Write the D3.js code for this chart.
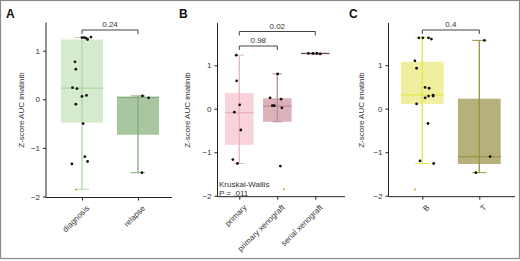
<!DOCTYPE html>
<html>
<head>
<meta charset="utf-8">
<script src="https://cdn.jsdelivr.net/npm/d3@7"></script>
<style>
  body { margin: 0; background: #fff; }
  text { font-family: "Liberation Sans", Arial, sans-serif; }
</style>
</head>
<body>
<script>
const WIDTH = 520;
const HEIGHT = 261;

// ---- datos ----
const catsA = ["diagnosis", "relapse"];
const catsB = ["primary", "primary xenograft", "serial xenograft"];
const catsC = ["B", "T"];

// [bigote inf, q1, mediana, q3, bigote sup]
const cajasA = [[-1.85, -0.48, 0.23, 1.23, 1.27], [-1.51, -0.73, 0.04, 0.05, 0.07]];
const cajasB = [[-1.26, -0.83, -0.09, 0.36, 1.23], [-0.3, -0.3, 0.06, 0.24, 0.8], [1.26, 1.27, 1.27, 1.27, 1.27]];
const cajasC = [[-1.26, 0.11, 0.32, 1.08, 1.63], [-1.47, -1.27, -1.1, 0.23, 1.57]];

// puntos: valores y jitter (fraccion del paso) por categoria
const puntosA = [
  [1.27, 1.27, 1.26, 1.23, 1.28, 0.77, 0.62, 0.24, 0.22, 0.06, 0.08, -0.1, -0.5, -1.18, -1.28, -1.33],
  [0.07, 0.03, -1.51]
];
const jitterA = [
  [0.0, 0.04, 0.07, 0.1, 0.16, -0.125, -0.11, -0.17, -0.09, 0, 0.08, -0.11, 0.02, 0.05, 0.1, -0.18],
  [0.08, 0.19, 0.07]
];
const puntosB = [
  [1.23, 0.64, 0.09, -0.08, -0.49, -1.17, -1.26],
  [0.25, 0.07, 0.07, 0.8, 0.22, 0.02, -1.32],
  [1.27, 1.27, 1.27, 1.26]
];
const jitterB = [
  [-0.08, -0.07, 0.01, -0.13, 0.04, -0.17, -0.05],
  [-0.19, -0.13, -0.08, 0.01, 0.1, 0.12, 0.08],
  [-0.18, -0.06, 0.04, 0.13]
];
const puntosC = [
  [1.63, 1.63, 1.63, 1.6, 1.1, 0.93, 0.49, 0.47, 0.25, 0.29, 0.29, 0.31, 0.11, -0.34, -1.2, -1.26],
  [1.57, -1.1, -1.47]
];
const jitterC = [
  [-0.06, 0.01, 0.11, 0.16, -0.13, -0.1, 0.05, 0.12, 0.05, 0.11, 0.19, 0.19, -0.1, 0.1, -0.04, 0.2],
  [0.09, 0.19, -0.06]
];
// outlier naranja [categoria, valor, jitter]
const atipicoA = [0, -1.86, -0.11];
const atipicoB = [1, -1.85, 0.17];
const atipicoC = [0, -1.86, -0.13];

const comparacionesA = [[0, 1, "0.24"]];
const comparacionesB = [[0, 1, "0.98"], [0, 2, "0.02"]];
const comparacionesC = [[0, 1, "0.4"]];

const ticksY = [-2, -1, 0, 1];

const SVG = d3.select("body").append("svg")
  .attr("width", WIDTH)
  .attr("height", HEIGHT);

SVG.append("rect")
  .attr("x", 0.5).attr("y", 0.5)
  .attr("width", WIDTH - 1).attr("height", 258)
  .attr("fill", "none")
  .attr("stroke", "#8a8a8a")
  .attr("stroke-width", 1.2);

const dibujarPanel = (cfg) => {
  const g = SVG.append("g");
  const x = d3.scalePoint().domain(cfg.cats).range(cfg.xCats);
  const paso = x.step();
  const y = d3.scaleLinear().domain(cfg.yDom).range([cfg.yBottom, cfg.yTop]);
  const anchoCaja = paso * 0.75;
  const anchoTope = paso * 0.25;

  // cajas
  cfg.cats.forEach((c, i) => {
    const [lo, q1, med, q3, hi] = cfg.cajas[i];
    const cx = x(c);
    g.append("rect")
      .attr("x", cx - anchoCaja / 2)
      .attr("y", y(q3))
      .attr("width", anchoCaja)
      .attr("height", Math.max(0, y(q1) - y(q3)))
      .attr("fill", cfg.relleno[i]);
    g.append("line")
      .attr("x1", cx).attr("x2", cx)
      .attr("y1", y(lo)).attr("y2", y(hi))
      .attr("stroke", cfg.linea[i]).attr("stroke-width", 1.3);
    [lo, hi].forEach((v) => {
      g.append("line")
        .attr("x1", cx - anchoTope / 2).attr("x2", cx + anchoTope / 2)
        .attr("y1", y(v)).attr("y2", y(v))
        .attr("stroke", cfg.linea[i]).attr("stroke-width", 1);
    });
    g.append("line")
      .attr("x1", cx - anchoCaja / 2).attr("x2", cx + anchoCaja / 2)
      .attr("y1", y(med)).attr("y2", y(med))
      .attr("stroke", cfg.linea[i]).attr("stroke-width", 1.3);
  });

  // puntos
  const datos = [];
  cfg.cats.forEach((c, i) => {
    cfg.puntos[i].forEach((v, j) => datos.push({ c, v, j: cfg.jitter[i][j] }));
  });
  g.append("g").selectAll("circle")
    .data(datos)
    .join("circle")
    .attr("cx", (d) => x(d.c) + d.j * paso)
    .attr("cy", (d) => y(d.v))
    .attr("r", 1.4)
    .attr("fill", "#111");

  const [ai, av, aj] = cfg.atipico;
  g.append("circle")
    .attr("cx", x(cfg.cats[ai]) + aj * paso)
    .attr("cy", y(av))
    .attr("r", 1)
    .attr("fill", "#e8953a");

  // ejes
  const ejeY = g.append("g")
    .attr("transform", `translate(${cfg.xAxis[0]},0)`)
    .call(d3.axisLeft(y).tickValues(ticksY).tickSize(3).tickSizeOuter(0).tickFormat(d3.format("d")));
  ejeY.select(".domain").remove();
  ejeY.append("line")
    .attr("y1", cfg.yTop).attr("y2", cfg.yBottom + 1)
    .attr("stroke", "#222");
  ejeY.selectAll(".tick line").attr("stroke", "#222");
  ejeY.selectAll(".tick text")
    .attr("font-size", 8).attr("fill", "#333")
    .text((d) => (d < 0 ? "\u2212" + Math.abs(d) : d));

  const ejeX = g.append("g")
    .attr("transform", `translate(0,${cfg.yBottom + 1})`)
    .call(d3.axisBottom(x).tickSize(3).tickSizeOuter(0));
  ejeX.select(".domain").remove();
  ejeX.append("line")
    .attr("x1", cfg.xAxis[0]).attr("x2", cfg.xAxis[1])
    .attr("stroke", "#222");
  ejeX.selectAll(".tick line").attr("stroke", "#222");
  ejeX.selectAll(".tick text")
    .attr("font-size", 8).attr("fill", "#333")
    .attr("text-anchor", "end")
    .attr("dy", null)
    .attr("transform", "translate(3,7) rotate(-45)");

  g.append("text")
    .attr("transform", `translate(${cfg.tituloX},110) rotate(-90)`)
    .attr("text-anchor", "middle")
    .attr("font-size", 8)
    .attr("fill", "#333")
    .text("Z-score AUC imatinib");

  // corchetes de comparacion
  cfg.comparaciones.forEach(([a, b, lab], k) => {
    const x1 = x(cfg.cats[a]);
    const x2 = x(cfg.cats[b]);
    const yy = cfg.yCorchete[k];
    g.append("path")
      .attr("d", `M${x1},${yy + 4}V${yy}H${x2}V${yy + 4}`)
      .attr("fill", "none")
      .attr("stroke", "#444")
      .attr("stroke-width", 1);
    g.append("text")
      .attr("x", (x1 + x2) / 2)
      .attr("y", yy - 3)
      .attr("text-anchor", "middle")
      .attr("font-size", 8)
      .attr("fill", "#333")
      .text(lab);
  });

  g.append("text")
    .attr("x", cfg.letra[0]).attr("y", cfg.letra[1])
    .attr("font-size", 12)
    .attr("font-weight", "bold")
    .attr("fill", "#111")
    .text(cfg.nombre);

  return g;
};

dibujarPanel({
  nombre: "A", letra: [6, 18],
  cats: catsA, cajas: cajasA, puntos: puntosA, jitter: jitterA, atipico: atipicoA,
  comparaciones: comparacionesA, yCorchete: [30],
  xCats: [82, 138], xAxis: [46, 172],
  yDom: [-2, 1.58], yBottom: 196.5, yTop: 22.5, tituloX: 24,
  relleno: ["#d6eacd", "#a8c7a0"], linea: ["#b3d5a6", "#82ac78"]
});

const panelB = dibujarPanel({
  nombre: "B", letra: [179, 18],
  cats: catsB, cajas: cajasB, puntos: puntosB, jitter: jitterB, atipico: atipicoB,
  comparaciones: comparacionesB, yCorchete: [46, 31.5],
  xCats: [239.3, 315.3], xAxis: [217.5, 345],
  yDom: [-2, 1.97], yBottom: 195.7, yTop: 23, tituloX: 190,
  relleno: ["#f8d3da", "#dcb2ba", "#7a4050"], linea: ["#ebb2be", "#bf8995", "#7a4050"]
});

panelB.append("text")
  .attr("x", 219).attr("y", 187)
  .attr("font-size", 8).attr("fill", "#333")
  .text("Kruskal-Wallis");
panelB.append("text")
  .attr("x", 219).attr("y", 196)
  .attr("font-size", 8).attr("fill", "#333")
  .text("P = .011");

dibujarPanel({
  nombre: "C", letra: [349, 18],
  cats: catsC, cajas: cajasC, puntos: puntosC, jitter: jitterC, atipico: atipicoC,
  comparaciones: comparacionesC, yCorchete: [30],
  xCats: [422.3, 479.3], xAxis: [388.5, 515],
  yDom: [-2, 1.97], yBottom: 195.7, yTop: 23, tituloX: 364,
  relleno: ["#efef9f", "#b6b07c"], linea: ["#e3e34a", "#9a9442"]
});
</script>
</body>
</html>
